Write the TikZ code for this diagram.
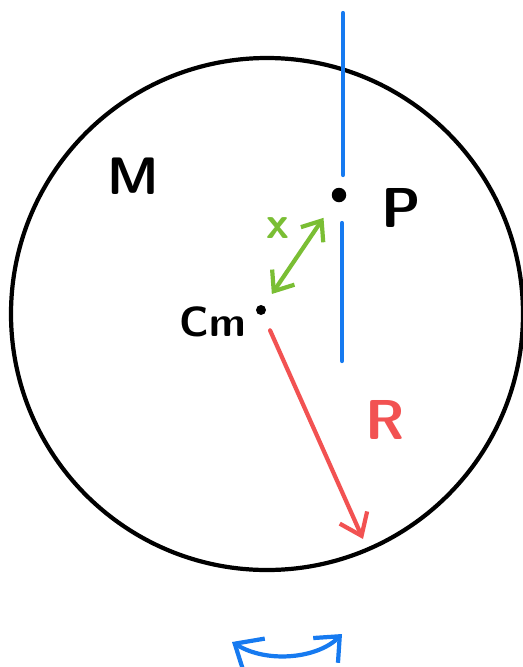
\documentclass[tikz,border=0pt]{standalone}
\usetikzlibrary{arrows.meta}
\definecolor{penblue}{RGB}{22,122,240}
\definecolor{pengreen}{RGB}{122,190,52}
\definecolor{penred}{RGB}{242,82,82}
\tikzset{
  pen/.style={line width=2.4pt,line cap=round},
  dot/.style={circle,fill,inner sep=0pt,minimum size=#1},
  lbl/.style={font=\sffamily\bfseries\fontsize{#1}{#1}\selectfont}
}
\begin{document}
\begin{tikzpicture}[x=0.02cm,y=-0.02cm]
	\useasboundingbox (0,0) rectangle (522,667);
	% the body
	\draw[pen] (267,314) circle[radius=256];
	\node[lbl=30] (mass) at (133,176) {M};
	% axis through P
	\coordinate (axtop) at (343,13);
	\coordinate (axgap) at (343,175);
	\coordinate (axgo) at (342,223);
	\coordinate (axend) at (342,361);
	\draw[pen,penblue] (axtop) -- (axgap);
	\draw[pen,penblue] (axgo) -- (axend);
	% points
	\node[dot=2.9mm] (P) at (339,195) {};
	\node[lbl=32] (Plbl) at (401,208) {P};
	\node[dot=2mm] (CM) at (261,310) {};
	\node[lbl=24,anchor=east] (CMlbl) at (252,322) {Cm};
	% distance x
	\draw[pen,pengreen,{Straight Barb[length=3.4mm,width=5.4mm]}-{Straight Barb[length=3.4mm,width=5.4mm]},shorten <=0.28cm,shorten >=0.4cm] (CM) -- (P);
	\node[lbl=26,text=pengreen] (xlbl) at (278,228) {x};
	% radius R
	\coordinate (rim) at (363,539);
	\draw[pen,penred,{Straight Barb[length=4mm,width=6mm]}-,shorten >=0.34cm] (rim) -- (CM);
	\node[lbl=32,text=penred] (Rlbl) at (385,420) {R};
	% rotation
	\coordinate (rotl) at (232,642);
	\coordinate (rotr) at (342,634);
	\draw[pen,penblue,{Straight Barb[length=4.6mm,width=8mm]}-{Straight Barb[length=4mm,width=7mm]}] (rotl) .. controls (268,664) and (318,658) .. (rotr);
\end{tikzpicture}
\end{document}
